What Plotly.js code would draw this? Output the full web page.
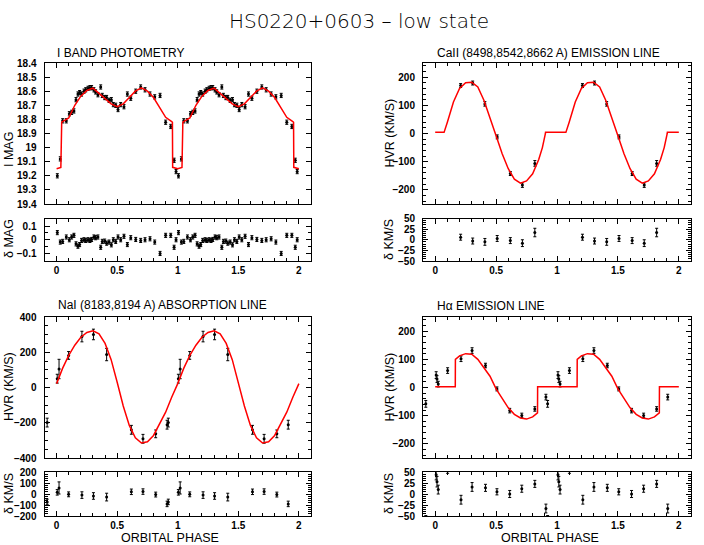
<!DOCTYPE html>
<html>
<head>
<meta charset="utf-8">
<script src="https://cdn.plot.ly/plotly-3.0.1.min.js"></script>
<style>body{margin:0;background:#fff}#plot{width:704px;height:545px}</style>
</head>
<body>
<div id="plot"></div>
<script>
// I band photometry (phase 0-1, plotted twice)
var iPhase = [0.006, 0.030, 0.050, 0.080, 0.105, 0.124, 0.143, 0.160, 0.176, 0.190, 0.206, 0.226, 0.240, 0.259,
  0.275, 0.289, 0.308, 0.322, 0.341, 0.364, 0.377, 0.397, 0.413, 0.433, 0.452, 0.468, 0.488, 0.507, 0.529,
  0.556, 0.584, 0.612, 0.653, 0.694, 0.730, 0.771, 0.810, 0.854, 0.900, 0.942, 0.970, 0.986];
var iMag = [19.20, 19.08, 18.81, 18.81, 18.76, 18.75, 18.74, 18.66, 18.62, 18.61, 18.62, 18.60, 18.59, 18.58,
  18.575, 18.575, 18.59, 18.605, 18.625, 18.57, 18.63, 18.645, 18.645, 18.665, 18.66, 18.695, 18.70, 18.73, 18.695,
  18.71, 18.62, 18.65, 18.60, 18.57, 18.59, 18.62, 18.64, 18.63, 18.82, 18.85, 19.09, 19.17];
var iRes = [0.052, -0.017, -0.012, 0.020, 0.000, 0.020, 0.032, -0.030, -0.047, -0.035, -0.005, 0.000, -0.005, 0.000,
  -0.005, 0.002, 0.020, 0.015, 0.020, -0.055, -0.012, -0.010, -0.025, -0.017, -0.037, 0.000, -0.012, 0.020, 0.000,
  0.025, -0.035, 0.015, 0.002, -0.005, 0.000, 0.007, -0.017, -0.100, 0.032, 0.032, -0.055, 0.000];
var iErr = iPhase.map(function () { return 0.015; });
var iModelPhase = [0, 0.035, 0.042, 0.1, 0.15, 0.2, 0.25, 0.3, 0.35, 0.4, 0.45, 0.5, 0.55, 0.6, 0.65, 0.7,
  0.75, 0.8, 0.85, 0.9, 0.95, 0.956, 0.958, 1.0];
var iModelMag = [19.15, 19.14, 18.82, 18.79, 18.70, 18.635, 18.595, 18.578, 18.615, 18.655, 18.69, 18.71,
  18.69, 18.645, 18.60, 18.577, 18.60, 18.645, 18.72, 18.785, 18.815, 18.82, 19.14, 19.15];

// CaII emission line
var caPhase = [0.209, 0.308, 0.408, 0.509, 0.617, 0.716, 0.818];
var caVel = [170, 179, 105, -12, -142, -183, -106];
var caErr = [7, 7, 8, 7, 7, 8, 10];
var caRes = [6, -3, -5, 3, -2, -8, 17];
var caModelPhase = [0, 0.073, 0.1, 0.15, 0.2, 0.25, 0.3, 0.35, 0.4, 0.45, 0.5, 0.55, 0.6, 0.65, 0.7, 0.75,
  0.8, 0.85, 0.88, 0.905, 0.906, 1.0];
var caModelVel = [4, 4, 40, 112, 160, 180, 182, 165, 118, 58, -8, -72, -125, -162, -176, -168,
  -143, -92, -50, 0, 4, 4];

// NaI absorption line
var naPhase = [0.005, 0.020, 0.099, 0.209, 0.304, 0.413, 0.617, 0.713, 0.818, 0.912, 0.922];
var naVel = [50, 105, 182, 289, 301, 187, -240, -291, -263, -211, -199];
var naErr = [25, 55, 22, 30, 30, 35, 25, 25, 22, 25, 25];
var naRes = [15, 55, -3, -10, -18, -28, 20, 22, -5, -90, -72];
var naModelPhase = [0, 0.05, 0.1, 0.15, 0.2, 0.25, 0.3, 0.35, 0.4, 0.45, 0.5, 0.55, 0.6, 0.65, 0.7, 0.75,
  0.8, 0.85, 0.9, 0.95, 1.0];
var naModelVel = [22, 110, 182, 240, 285, 312, 322, 305, 250, 158, 30, -105, -215, -285, -315, -308,
  -272, -210, -140, -55, 22];

// H-alpha emission line
var haPhase = [0.008, 0.015, 0.025, 0.102, 0.212, 0.303, 0.413, 0.507, 0.612, 0.711, 0.818, 0.909, 0.923];
var haVel = [44, 30, 12, 60, 102, 131, 78, -5, -82, -99, -76, -34, -58];
var haErr = [12, 12, 10, 10, 10, 10, 8, 7, 8, 8, 8, 10, 12];
var haRes = [44, 28, 10, 57, -13, 16, 14, 5, 0, 12, 23, -33, -61];
var haModelPhase = [0, 0.165, 0.166, 0.2, 0.25, 0.3, 0.35, 0.4, 0.45, 0.5, 0.55, 0.6, 0.65, 0.7, 0.75,
  0.8, 0.84, 0.841, 1.0];
var haModelVel = [3, 3, 100, 112, 120, 118, 100, 72, 40, -5, -40, -72, -95, -108, -112,
  -104, -90, 3, 3];

var W = 704, H = 545;
function fx(a, b) { return [a / W, b / W]; }
function fy(top, bot) { return [1 - bot / H, 1 - top / H]; }

// repeat a phase-folded series over several cycles
function cycles(xs, ys, es, shifts, lo, hi) {
  var out = {x: [], y: [], e: []};
  shifts.forEach(function (s) {
    xs.forEach(function (x, i) {
      var p = x + s;
      if (p < lo || p > hi) return;
      out.x.push(p); out.y.push(ys[i]); if (es) out.e.push(es[i]);
    });
  });
  return out;
}
function pts(d, n) {
  return {x: d.x, y: d.y, xaxis: 'x' + n, yaxis: 'y' + n, type: 'scatter', mode: 'markers',
    marker: {color: '#000', size: 3},
    error_y: {type: 'data', array: d.e, visible: true, color: '#000', thickness: 1, width: 1.5},
    hoverinfo: 'skip', showlegend: false};
}
function curve(d, n) {
  return {x: d.x, y: d.y, xaxis: 'x' + n, yaxis: 'y' + n, type: 'scatter', mode: 'lines',
    line: {color: '#ff0000', width: 1.5}, hoverinfo: 'skip', showlegend: false};
}

var two = [0, 1], wrap = [-1, 0, 1];
var data = [
  pts(cycles(iPhase, iMag, iErr, two, -1, 3), ''),
  curve(cycles(iModelPhase, iModelMag, null, two, -1, 3), ''),
  pts(cycles(iPhase, iRes, iErr, two, -1, 3), '2'),

  pts(cycles(caPhase, caVel, caErr, wrap, -0.085, 1.915), '3'),
  curve(cycles(caModelPhase, caModelVel, null, two, -1, 3), '3'),
  pts(cycles(caPhase, caRes, caErr, wrap, -0.085, 1.915), '4'),

  pts(cycles(naPhase, naVel, naErr, wrap, -0.085, 1.915), '5'),
  curve(cycles(naModelPhase, naModelVel, null, two, -1, 3), '5'),
  pts(cycles(naPhase, naRes, naErr, wrap, -0.085, 1.915), '6'),

  pts(cycles(haPhase, haVel, haErr, wrap, -0.085, 1.915), '7'),
  curve(cycles(haModelPhase, haModelVel, null, two, -1, 3), '7'),
  pts(cycles(haPhase, haRes, haErr, wrap, -0.085, 1.915), '8')
];

var tickFont = {family: 'Liberation Sans, Arial, sans-serif', size: 10, color: '#000', weight: 'bold'};
function xax(dom, anchor, labels) {
  return {domain: dom, anchor: anchor, range: [-0.1, 2.1], tick0: 0, dtick: 0.5,
    ticks: 'inside', ticklen: 5, tickwidth: 1, tickcolor: '#000',
    showline: true, linecolor: '#000', linewidth: 1, mirror: 'allticks',
    showgrid: false, zeroline: false, showticklabels: labels, tickfont: tickFont,
    minor: {dtick: 0.1, tick0: 0, ticks: 'inside', ticklen: 3, tickcolor: '#000', showgrid: false}};
}
function yax(dom, anchor, range, dtick, minor) {
  var a = {domain: dom, anchor: anchor, range: range, tick0: 0, dtick: dtick,
    ticks: 'inside', ticklen: 5, tickwidth: 1, tickcolor: '#000',
    showline: true, linecolor: '#000', linewidth: 1, mirror: 'allticks',
    showgrid: false, zeroline: false, tickfont: tickFont, ticklabelstandoff: 5};
  if (minor) a.minor = {dtick: minor, tick0: 0, ticks: 'inside', ticklen: 3, tickcolor: '#000', showgrid: false};
  return a;
}

var colL = fx(44.5, 311), colR = fx(423, 691);
var mainT = fy(63, 204), resT = fy(218.5, 261);
var mainB = fy(317, 458), resB = fy(472, 516);

var labFont = {family: 'Liberation Sans, Arial, sans-serif', size: 12.5, color: '#000'};
var ttlFont = {family: 'Liberation Sans, Arial, sans-serif', size: 12, color: '#000'};
function ann(text, x, y, opts) {
  var a = {text: text, x: x / W, y: 1 - y / H, xref: 'paper', yref: 'paper', showarrow: false,
    xanchor: 'center', yanchor: 'middle', font: labFont};
  for (var k in opts) a[k] = opts[k];
  return a;
}

var layout = {
  width: W, height: H,
  margin: {l: 0, r: 0, t: 0, b: 0},
  paper_bgcolor: '#fff', plot_bgcolor: '#fff',
  showlegend: false,
  title: {text: 'HS0220+0603 \u2013 low state', x: 359 / W, xanchor: 'center', y: 1 - 21 / H, yanchor: 'middle',
    font: {family: 'DejaVu Sans, sans-serif', size: 20, color: '#000', weight: 200}},
  xaxis: xax(colL, 'y', false),
  yaxis: yax(mainT, 'x', [19.4, 18.4], 0.1, null),
  xaxis2: xax(colL, 'y2', true),
  yaxis2: yax(resT, 'x2', [-0.155, 0.155], 0.1, 0.05),
  xaxis3: xax(colR, 'y3', false),
  yaxis3: yax(mainT, 'x3', [-250, 250], 100, 20),
  xaxis4: xax(colR, 'y4', true),
  yaxis4: yax(resT, 'x4', [-50, 50], 25, 5),
  xaxis5: xax(colL, 'y5', false),
  yaxis5: yax(mainB, 'x5', [-400, 400], 200, 50),
  xaxis6: xax(colL, 'y6', true),
  yaxis6: yax(resB, 'x6', [-200, 200], 100, 20),
  xaxis7: xax(colR, 'y7', false),
  yaxis7: yax(mainB, 'x7', [-250, 250], 100, 20),
  xaxis8: xax(colR, 'y8', true),
  yaxis8: yax(resB, 'x8', [-50, 50], 25, 5),
  annotations: [
    ann('I BAND PHOTOMETRY', 55, 53, {xanchor: 'left', font: ttlFont}),
    ann('CaII (8498,8542,8662 A) EMISSION LINE', 435, 53, {xanchor: 'left', font: ttlFont}),
    ann('NaI (8183,8194 A) ABSORPTION LINE', 56, 305, {xanchor: 'left', font: ttlFont}),
    ann('H\u03b1 EMISSION LINE', 435, 306, {xanchor: 'left', font: ttlFont}),
    ann('I MAG', 9, 150, {textangle: -90}),
    ann('\u03b4 MAG', 9, 239, {textangle: -90}),
    ann('HVR (KM/S)', 389, 133.5, {textangle: -90}),
    ann('\u03b4 KM/S', 389, 240, {textangle: -90}),
    ann('HVR (KM/S)', 9, 387, {textangle: -90}),
    ann('\u03b4 KM/S', 9, 494, {textangle: -90}),
    ann('HVR (KM/S)', 389, 387.5, {textangle: -90}),
    ann('\u03b4 KM/S', 389, 494, {textangle: -90}),
    ann('ORBITAL PHASE', 170, 538, {}),
    ann('ORBITAL PHASE', 550, 538, {})
  ]
};

Plotly.newPlot('plot', data, layout, {displayModeBar: false, staticPlot: true});
</script>
</body>
</html>
